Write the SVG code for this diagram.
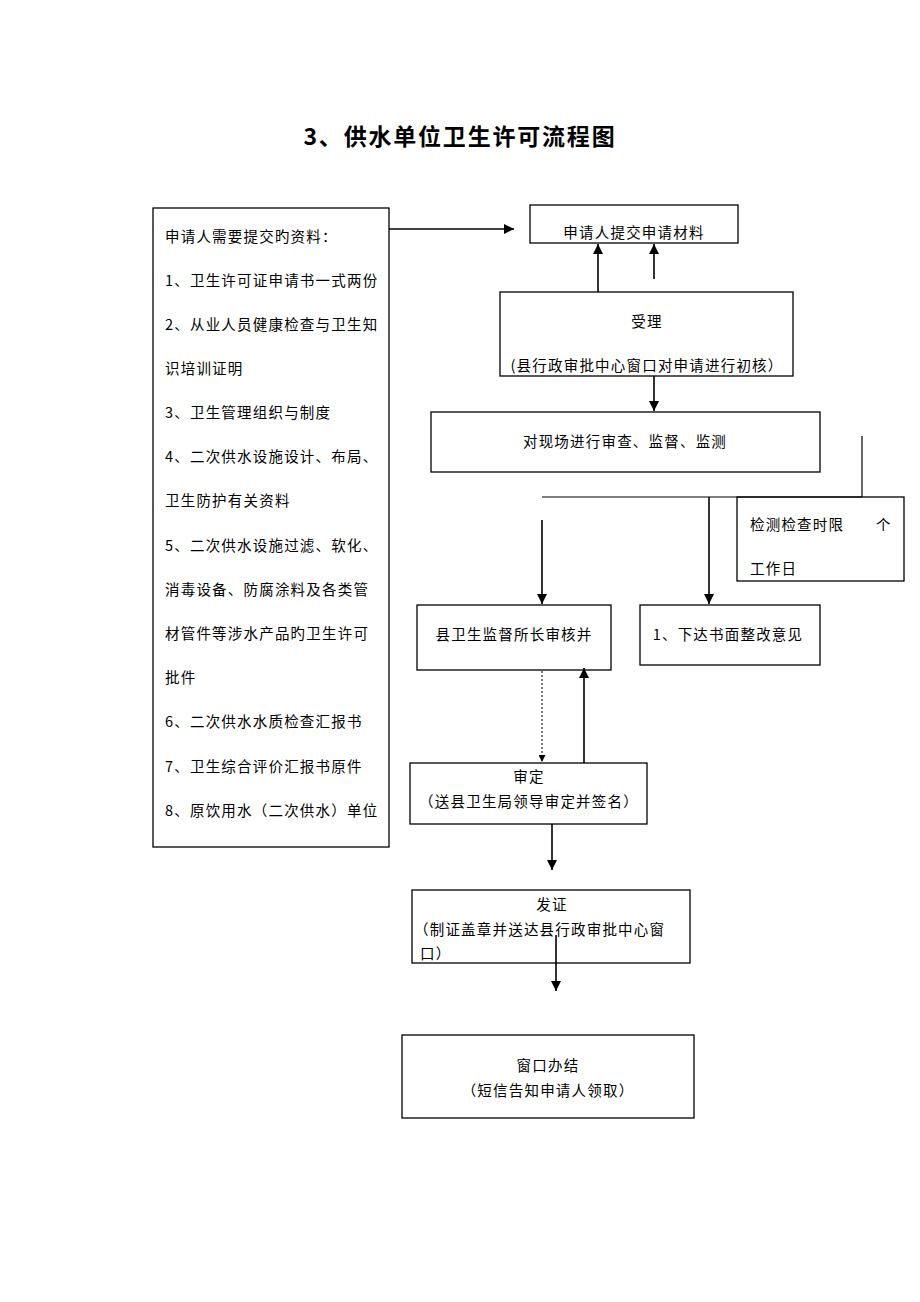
<svg xmlns="http://www.w3.org/2000/svg" width="920" height="1302" viewBox="0 0 920 1302">
<style>
.box{fill:none;stroke:#000;stroke-width:1.3}
.t{font-family:"Noto Sans CJK SC","Noto Sans CJK TC",sans-serif;font-size:14.5px;letter-spacing:1.2px;fill:#000}
.m{text-anchor:middle}
.c{stroke:#000;stroke-width:1.6;fill:none}
.d{stroke:#000;stroke-width:1;stroke-dasharray:2,2;fill:none}
</style>
<defs>
<marker id="ah" viewBox="0 0 10 10" refX="10" refY="5" markerWidth="7" markerHeight="7" markerUnits="userSpaceOnUse" orient="auto"><path d="M0,0 L10,5 L0,10 z" fill="#000"/></marker>
<marker id="ah2" viewBox="0 0 10 10" refX="10" refY="5" markerWidth="10" markerHeight="10" markerUnits="userSpaceOnUse" orient="auto"><path d="M0,0 L10,5 L0,10 z" fill="#000"/></marker>
</defs>
<rect width="920" height="1302" fill="#fff"/>
<text x="460" y="145" text-anchor="middle" font-family="Noto Sans CJK SC,sans-serif" font-size="23" font-weight="bold" letter-spacing="1.8">3、供水单位卫生许可流程图</text>

<g id="materials">
<rect class="box" x="153" y="208" width="236" height="639"/>
<text class="t" x="165" y="242">申请人需要提交旳资料：</text>
<text class="t" x="165" y="286">1、卫生许可证申请书一式两份</text>
<text class="t" x="165" y="330">2、从业人员健康检查与卫生知</text>
<text class="t" x="165" y="374">识培训证明</text>
<text class="t" x="165" y="418">3、卫生管理组织与制度</text>
<text class="t" x="165" y="462">4、二次供水设施设计、布局、</text>
<text class="t" x="165" y="506">卫生防护有关资料</text>
<text class="t" x="165" y="551">5、二次供水设施过滤、软化、</text>
<text class="t" x="165" y="595">消毒设备、防腐涂料及各类管</text>
<text class="t" x="165" y="639">材管件等涉水产品旳卫生许可</text>
<text class="t" x="165" y="683">批件</text>
<text class="t" x="165" y="727">6、二次供水水质检查汇报书</text>
<text class="t" x="165" y="772">7、卫生综合评价汇报书原件</text>
<text class="t" x="165" y="816">8、原饮用水（二次供水）单位</text>
</g>

<g id="submit">
<rect class="box" x="530" y="205" width="208" height="38"/>
<text class="t m" x="634" y="238">申请人提交申请材料</text>
</g>

<g id="accept">
<rect class="box" x="500" y="292" width="293" height="84"/>
<text class="t m" x="647" y="327">受理</text>
<text class="t m" x="647" y="371">(县行政审批中心窗口对申请进行初核）</text>
</g>

<g id="inspect">
<rect class="box" x="431" y="412" width="389" height="60"/>
<text class="t m" x="625" y="447">对现场进行审查、监督、监测</text>
</g>

<g id="timelimit">
<rect class="box" x="737" y="497" width="167" height="84"/>
<text class="t" x="750" y="530">检测检查时限</text>
<text class="t" x="876" y="530">个</text>
<text class="t" x="750" y="574">工作日</text>
</g>

<g id="review">
<rect class="box" x="417" y="605" width="194" height="65"/>
<text class="t m" x="514" y="640">县卫生监督所长审核并</text>
</g>

<g id="rectify">
<rect class="box" x="640" y="605" width="180" height="60"/>
<text class="t m" x="728" y="640">1、下达书面整改意见</text>
</g>

<g id="approve">
<rect class="box" x="410" y="763" width="237" height="61"/>
<text class="t m" x="529" y="782">审定</text>
<text class="t m" x="529" y="807">（送县卫生局领导审定并签名）</text>
</g>

<g id="issue">
<rect class="box" x="412" y="890" width="278" height="73"/>
<text class="t m" x="552" y="910">发证</text>
<text class="t" x="414" y="935">（制证盖章并送达县行政审批中心窗</text>
<text class="t" x="420" y="959">口）</text>
</g>

<g id="finish">
<rect class="box" x="402" y="1035" width="292" height="83"/>
<text class="t m" x="548" y="1071">窗口办结</text>
<text class="t m" x="548" y="1096">（短信告知申请人领取）</text>
</g>

<g id="connectors">
<line class="c" x1="389" y1="229" x2="514" y2="229" marker-end="url(#ah2)"/>
<line class="c" x1="598" y1="292" x2="598" y2="244" marker-end="url(#ah2)"/>
<line class="c" x1="654" y1="279" x2="654" y2="244" marker-end="url(#ah2)"/>
<line class="c" x1="654" y1="376" x2="654" y2="411" marker-end="url(#ah2)"/>
<line class="c" x1="862" y1="436" x2="862" y2="497" style="stroke-width:1.2"/>
<line class="c" x1="542" y1="497" x2="862" y2="497" style="stroke-width:1.2"/>
<line class="c" x1="709" y1="497" x2="709" y2="604" marker-end="url(#ah2)"/>
<line class="c" x1="542" y1="520" x2="542" y2="604" marker-end="url(#ah2)"/>
<line class="d" x1="542" y1="671" x2="542" y2="762" marker-end="url(#ah)"/>
<line class="c" x1="584" y1="763" x2="584" y2="668" marker-end="url(#ah2)"/>
<line class="c" x1="552" y1="824" x2="552" y2="870" marker-end="url(#ah2)"/>
<line class="c" x1="556" y1="935" x2="556" y2="991" marker-end="url(#ah2)"/>
</g>
</svg>
